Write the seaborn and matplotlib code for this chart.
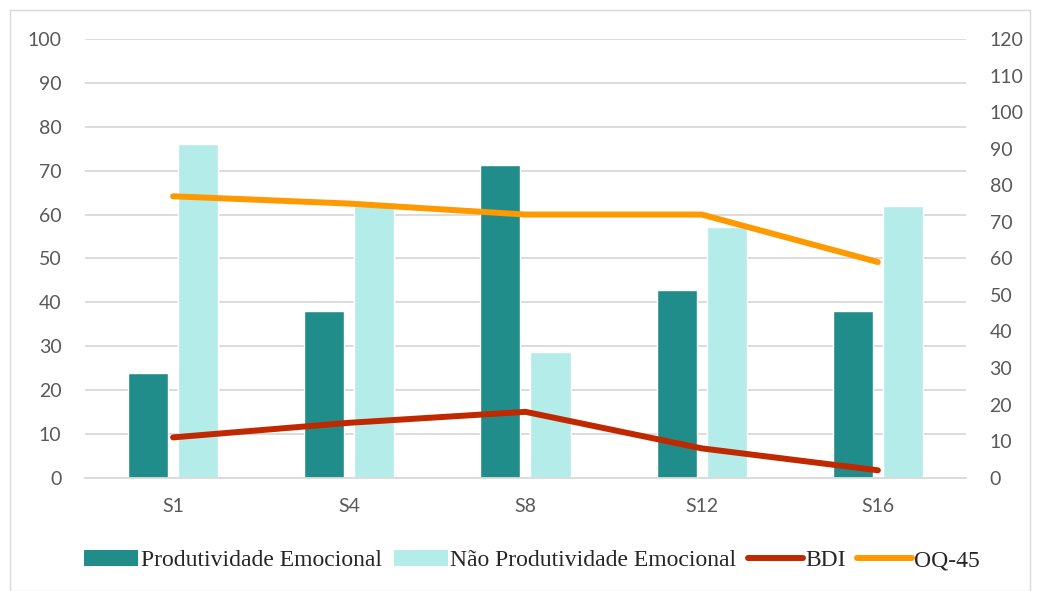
import numpy as np
import pandas as pd
import matplotlib
matplotlib.use("Agg")
import matplotlib.pyplot as plt
import seaborn as sns
from matplotlib.patches import Patch, Rectangle
from matplotlib.lines import Line2D

sessions = ["S1", "S4", "S8", "S12", "S16"]
prod_emocional = [23.8, 38.1, 71.4, 42.9, 38.1]
nao_prod_emocional = [76.2, 61.9, 28.6, 57.1, 61.9]
bdi = [11, 15, 18, 8, 2]
oq45 = [77, 75, 72, 72, 59]

c_dark = "#218D8B"
c_light = "#B4ECEA"
c_bdi = "#C02800"
c_oq = "#FF9900"
grid_c = "#D9D9D9"
tick_c = "#595959"

sns.set_theme(style="white")
plt.rcParams['font.family'] = ['Lato', 'DejaVu Sans']

df = pd.DataFrame({
    "Sessão": sessions * 2,
    "Valor": prod_emocional + nao_prod_emocional,
    "Série": ["Produtividade Emocional"] * 5 + ["Não Produtividade Emocional"] * 5,
})

fig = plt.figure(figsize=(10.39, 5.91), dpi=100)
ax = fig.add_axes([0.0818, 0.1919, 0.8479, 0.7418])

sns.barplot(data=df, x="Sessão", y="Valor", hue="Série", order=sessions,
            palette=[c_dark, c_light], width=0.568, gap=0.2, ax=ax,
            legend=False, saturation=1)

ax.set_xlim(-0.5, 4.5)
ax.set_ylim(0, 100)
ax.set_yticks(np.arange(0, 101, 10))
ax.yaxis.grid(True, color=grid_c, linewidth=1.3)
ax.set_axisbelow(True)
for s in ["top", "right", "left"]:
    ax.spines[s].set_visible(False)
ax.spines["bottom"].set_color(grid_c)
ax.spines["bottom"].set_linewidth(1.3)
ax.set_xlabel("")
ax.set_ylabel("")
ax.tick_params(axis="both", length=0, labelsize=14, colors=tick_c)
ax.tick_params(axis="x", pad=15)
ax.tick_params(axis="y", pad=17)

ax2 = ax.twinx()
pos = np.arange(len(sessions))
sns.lineplot(x=pos, y=bdi, color=c_bdi, linewidth=4.3, ax=ax2,
             solid_capstyle="round", solid_joinstyle="round")
sns.lineplot(x=pos, y=oq45, color=c_oq, linewidth=4.3, ax=ax2,
             solid_capstyle="round", solid_joinstyle="round")
ax2.set_ylim(0, 120)
ax2.set_yticks(np.arange(0, 121, 10))
ax2.set_xlim(-0.5, 4.5)
for s in ["top", "right", "left", "bottom"]:
    ax2.spines[s].set_visible(False)
ax2.tick_params(axis="y", length=0, labelsize=14, colors=tick_c, pad=17)
ax2.set_ylabel("")
ax2.grid(False)

handles = [
    Patch(facecolor=c_dark, edgecolor="none"),
    Patch(facecolor=c_light, edgecolor="none"),
    Line2D([], [], color=c_bdi, linewidth=4.3, solid_capstyle="round"),
    Line2D([], [], color=c_oq, linewidth=4.3, solid_capstyle="round"),
]
labels = ["Produtividade Emocional", "Não Produtividade Emocional", "BDI", "OQ-45"]
fig.legend(handles, labels, loc="center", bbox_to_anchor=(0.512, 0.052), ncol=4,
           frameon=False, prop={"family": "Liberation Serif", "size": 17},
           handlelength=2.3, handleheight=0.7, handletextpad=0.1,
           columnspacing=0.5)

fig.patches.append(Rectangle((10 / 1039, 0), 1020 / 1039, 581 / 591,
                             transform=fig.transFigure, fill=False,
                             edgecolor=grid_c, linewidth=1))

fig.savefig("out.png", dpi=100)
